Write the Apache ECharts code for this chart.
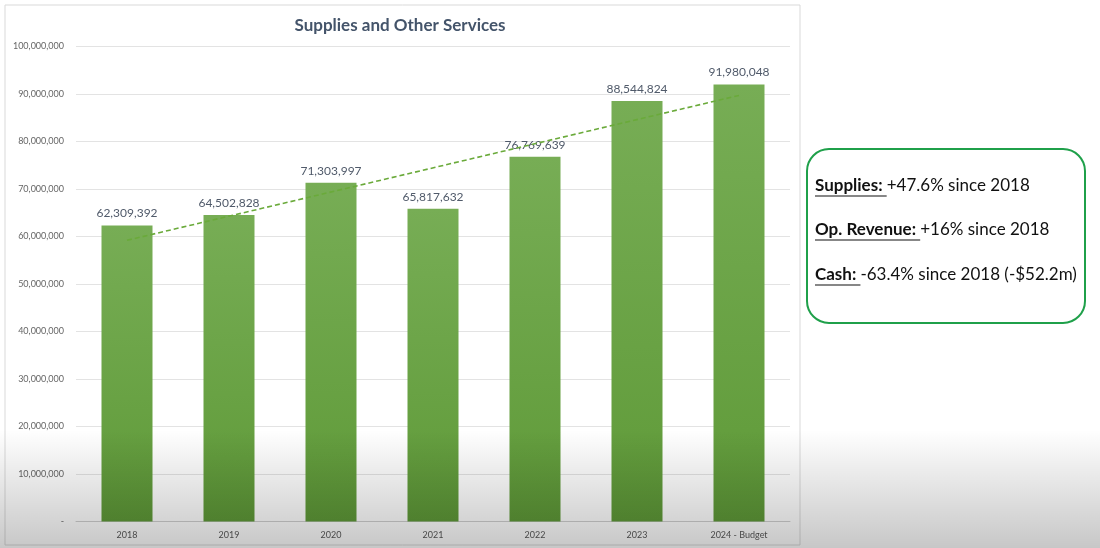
<!DOCTYPE html>
<html>
<head>
<meta charset="utf-8">
<script src="https://cdn.jsdelivr.net/npm/echarts@6/dist/echarts.min.js"></script>
<style>html,body{margin:0;padding:0;background:#fff;}#c{width:1100px;height:548px;}</style>
</head>
<body>
<div id="c"></div>
<script>
const categories = ['2018','2019','2020','2021','2022','2023','2024 - Budget'];
const values = [62309392, 64502828, 71303997, 65817632, 76769639, 88544824, 91980048];
// dashed linear trend line, endpoints
const trend = [59200000, null, null, null, null, null, 89700000];
const yTicks = { min: 0, max: 100000000, interval: 10000000 };
const noteLabels = ['Supplies: ', 'Op. Revenue: ', 'Cash: '];
const noteTexts = ['+47.6% since 2018', '+16% since 2018', '-63.4% since 2018 (-$52.2m)'];

const chart = echarts.init(document.getElementById('c'));
const FONT = 'Lato, "Open Sans", sans-serif';

function fmt(v){ return v === 0 ? '-' : v.toLocaleString('en-US'); }

// measure text for underlines
const cv = document.createElement('canvas').getContext('2d');
const noteFontSize = 17;
const noteX = 815, noteYs = [187, 231, 276];
const noteGraphics = [];
noteLabels.forEach((lab, i) => {
  cv.font = 'bold ' + noteFontSize + 'px ' + FONT;
  const w = cv.measureText(lab).width;
  noteGraphics.push({
    type: 'text', left: noteX, top: noteYs[i] - 10, z: 10,
    style: { text: '{b|' + lab + '}{n|' + noteTexts[i] + '}', rich: {
      b: { fontWeight: 'bold', fontSize: noteFontSize, fontFamily: FONT, fill: '#111' },
      n: { fontSize: noteFontSize, fontFamily: FONT, fill: '#111' }
    }}
  });
  noteGraphics.push({
    type: 'line', z: 10,
    shape: { x1: noteX, y1: noteYs[i] + 9, x2: noteX + w, y2: noteYs[i] + 9 },
    style: { stroke: '#111', lineWidth: 1.2 }
  });
});

chart.setOption({
  animation: false,
  backgroundColor: '#fff',
  title: {
    text: 'Supplies and Other Services', left: 395, top: 12, textAlign: 'center',
    textStyle: { fontFamily: FONT, fontSize: 17, fontWeight: 'bold', color: '#44546a' }
  },
  grid: { left: 76, right: 310, top: 46.5, bottom: 26.5 },
  xAxis: {
    type: 'category', data: categories,
    axisTick: { show: false },
    axisLine: { lineStyle: { color: '#d0d0d0' } },
    axisLabel: { fontFamily: FONT, fontSize: 9, color: '#595959', margin: 9 }
  },
  yAxis: {
    type: 'value', min: yTicks.min, max: yTicks.max, interval: yTicks.interval,
    axisLabel: { fontFamily: FONT, fontSize: 9, color: '#666', formatter: fmt, margin: 12 },
    splitLine: { lineStyle: { color: '#e3e3e3' } },
    axisLine: { show: false }, axisTick: { show: false }
  },
  series: [
    {
      type: 'bar', data: values, barWidth: '50%',
      itemStyle: { color: new echarts.graphic.LinearGradient(0,0,0,1,[
        { offset: 0, color: '#77ad55' }, { offset: 1, color: '#5f9a38' }]) },
      label: { show: true, position: 'top', distance: 6, formatter: p => fmt(p.value),
        fontFamily: FONT, fontSize: 12, color: '#505a6a' },
      z: 2
    },
    {
      type: 'line', data: trend, connectNulls: true, symbol: 'none',
      lineStyle: { color: '#6aaa3a', width: 1.6, type: [5, 3] }, z: 5
    }
  ],
  graphic: [
    { type: 'rect', z: -1, shape: { x: 5, y: 5, width: 795, height: 540 },
      style: { fill: 'none', stroke: '#d9d9d9', lineWidth: 1 } },
    { type: 'rect', z: 100, silent: true, shape: { x: 0, y: 430, width: 1100, height: 118 },
      style: { fill: new echarts.graphic.LinearGradient(0,0,0,1,[
        { offset: 0, color: 'rgba(0,0,0,0)' }, { offset: 1, color: 'rgba(0,0,0,0.22)' }]) } },
    { type: 'rect', z: 9, shape: { x: 807, y: 149, width: 278, height: 174, r: 22 },
      style: { fill: '#fff', stroke: '#1fa04a', lineWidth: 2 } },
    ...noteGraphics
  ]
});
</script>
</body>
</html>
